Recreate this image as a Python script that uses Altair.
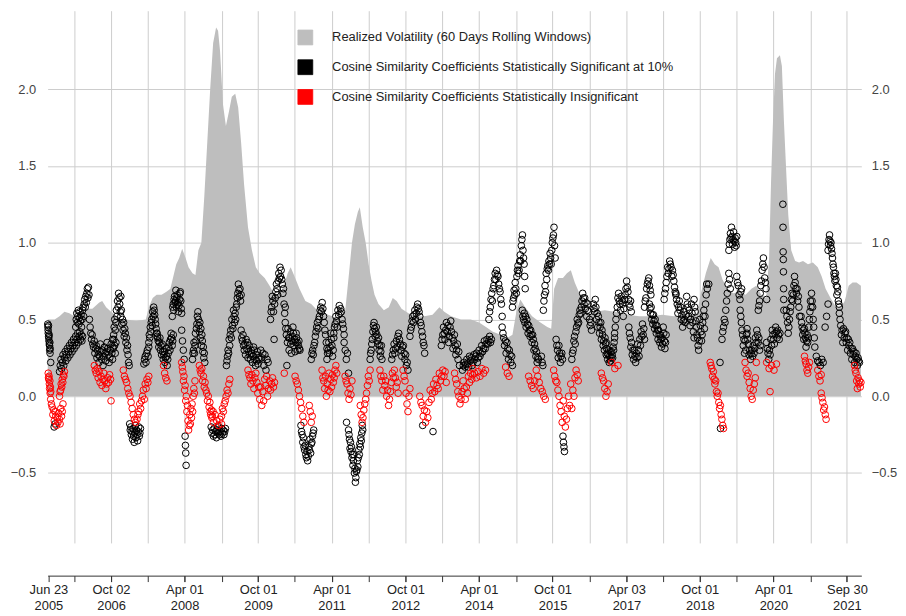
import altair as alt
import pandas as pd

LABEL_VOL = "Realized Volatility (60 Days Rolling Windows)"
LABEL_SIG = "Cosine Similarity Coefficients Statistically Significant at 10%"
LABEL_INS = "Cosine Similarity Coefficients Statistically Insignificant"

# realized volatility, decimal-year time and value
vol_t = [2005.46, 2005.60, 2005.70, 2005.80, 2005.90, 2006.00, 2006.10, 2006.24, 2006.37, 2006.51,
         2006.57, 2006.65, 2006.75, 2006.87, 2006.95, 2007.05, 2007.26, 2007.46, 2007.52, 2007.60,
         2007.68, 2007.78, 2007.88, 2007.96, 2008.02, 2008.08, 2008.14, 2008.20, 2008.27, 2008.33,
         2008.41, 2008.47, 2008.53, 2008.59, 2008.65, 2008.71, 2008.77, 2008.83, 2008.89, 2008.93,
         2008.97, 2009.03, 2009.09, 2009.15, 2009.21, 2009.28, 2009.34, 2009.40, 2009.46, 2009.54,
         2009.62, 2009.70, 2009.78, 2009.88, 2009.98, 2010.08, 2010.18, 2010.27, 2010.35, 2010.41,
         2010.49, 2010.59, 2010.71, 2010.83, 2010.95, 2011.09, 2011.26, 2011.40, 2011.52, 2011.60,
         2011.66, 2011.72, 2011.78, 2011.82, 2011.88, 2011.94, 2012.00, 2012.06, 2012.12, 2012.20,
         2012.31, 2012.41, 2012.49, 2012.57, 2012.67, 2012.81, 2012.97, 2013.13, 2013.30, 2013.44,
         2013.54, 2013.68, 2013.88, 2014.08, 2014.25, 2014.39, 2014.53, 2014.69, 2014.83, 2014.93,
         2015.01, 2015.09, 2015.19, 2015.33, 2015.50, 2015.64, 2015.72, 2015.78, 2015.86, 2015.96,
         2016.04, 2016.12, 2016.20, 2016.28, 2016.38, 2016.47, 2016.61, 2016.81, 2017.01, 2017.27,
         2017.51, 2017.76, 2017.98, 2018.22, 2018.46, 2018.69, 2018.77, 2018.87, 2018.97, 2019.05,
         2019.13, 2019.21, 2019.31, 2019.43, 2019.55, 2019.68, 2019.80, 2019.90, 2020.00, 2020.10,
         2020.16, 2020.20, 2020.24, 2020.28, 2020.32, 2020.38, 2020.42, 2020.46, 2020.51, 2020.55,
         2020.61, 2020.69, 2020.77, 2020.85, 2020.95, 2021.05, 2021.15, 2021.23, 2021.31, 2021.41,
         2021.52, 2021.62, 2021.70, 2021.78, 2021.86, 2021.94, 2022.03]
vol_v = [0.50, 0.50, 0.52, 0.55, 0.54, 0.52, 0.55, 0.57, 0.57, 0.61,
         0.62, 0.58, 0.55, 0.52, 0.50, 0.50, 0.49, 0.50, 0.58, 0.64,
         0.66, 0.66, 0.68, 0.70, 0.78, 0.86, 0.90, 0.96, 0.90, 0.84,
         0.80, 0.79, 0.95, 1.00, 1.30, 1.65, 2.00, 2.30, 2.40, 2.38,
         2.25, 1.90, 1.76, 1.85, 1.95, 1.97, 1.88, 1.65, 1.38, 1.10,
         0.95, 0.84, 0.80, 0.77, 0.72, 0.66, 0.66, 0.72, 0.80, 0.84,
         0.78, 0.70, 0.62, 0.60, 0.56, 0.54, 0.52, 0.50, 0.55, 0.80,
         1.00, 1.12, 1.20, 1.23, 1.10, 1.00, 0.86, 0.75, 0.66, 0.60,
         0.56, 0.58, 0.64, 0.62, 0.57, 0.54, 0.52, 0.52, 0.53, 0.58,
         0.55, 0.52, 0.50, 0.50, 0.48, 0.45, 0.42, 0.40, 0.38, 0.40,
         0.55, 0.63, 0.58, 0.52, 0.48, 0.45, 0.44, 0.70, 0.77, 0.77,
         0.80, 0.82, 0.74, 0.68, 0.60, 0.53, 0.55, 0.56, 0.55, 0.53,
         0.52, 0.52, 0.53, 0.52, 0.53, 0.54, 0.67, 0.80, 0.90, 0.86,
         0.84, 0.76, 0.70, 0.67, 0.68, 0.66, 0.70, 0.72, 0.66, 0.64,
         0.90, 1.40, 1.80, 2.10, 2.20, 2.22, 2.15, 1.80, 1.45, 1.18,
         0.95, 0.88, 0.87, 0.88, 0.86, 0.87, 0.84, 0.78, 0.70, 0.64,
         0.58, 0.58, 0.62, 0.72, 0.74, 0.74, 0.72]

# cosine similarity readings: (start, end, successive values) per visible cluster
sig_2005_2008 = [
    (2005.46, 2005.51, [0.47, 0.45, 0.43, 0.41, 0.46, 0.39, 0.38, 0.36, 0.40, 0.34, 0.33, 0.30, 0.35, 0.28, 0.31]),
    (2005.52, 2005.53, [0.22]),
    (2005.59, 2005.61, [-0.20, -0.18]),
    (2005.70, 2006.17, [0.16, 0.20, 0.24, 0.18, 0.22, 0.27, 0.20, 0.25, 0.29, 0.23, 0.27, 0.31, 0.25, 0.29, 0.33, 0.27, 0.31,
                        0.35, 0.29, 0.33, 0.37, 0.31, 0.35, 0.39, 0.33, 0.37, 0.41, 0.35, 0.39, 0.42, 0.37, 0.40, 0.36, 0.39]),
    (2006.03, 2006.30, [0.45, 0.50, 0.54, 0.48, 0.52, 0.56, 0.47, 0.51, 0.55, 0.49, 0.53, 0.45, 0.50, 0.56, 0.58, 0.52, 0.60,
                        0.63, 0.58, 0.65, 0.61, 0.67, 0.70, 0.64, 0.71, 0.66]),
    (2006.31, 2006.85, [0.50, 0.45, 0.41, 0.37, 0.40, 0.34, 0.32, 0.36, 0.28, 0.31, 0.33, 0.25, 0.30, 0.27, 0.22, 0.26, 0.34,
                        0.29, 0.24, 0.30, 0.20, 0.26, 0.32, 0.28, 0.23, 0.29, 0.35, 0.31, 0.27, 0.22, 0.25, 0.30, 0.34, 0.28,
                        0.24, 0.31, 0.37, 0.33, 0.28, 0.35]),
    (2006.78, 2006.95, [0.37, 0.32, 0.40, 0.45, 0.50, 0.43, 0.48, 0.56, 0.52, 0.62, 0.58, 0.67, 0.64, 0.60, 0.55, 0.65]),
    (2006.95, 2007.12, [0.52, 0.56, 0.47, 0.50, 0.43, 0.48, 0.39, 0.44, 0.41, 0.35, 0.38, 0.30, 0.33, 0.27, 0.22, 0.20]),
    (2007.13, 2007.35, [-0.18, -0.22, -0.20, -0.25, -0.23, -0.28, -0.21, -0.26, -0.30, -0.24, -0.19, -0.27, -0.22, -0.25,
                        -0.29, -0.23, -0.20, -0.26, -0.24, -0.21]),
    (2007.42, 2007.52, [0.21, 0.24, 0.26, 0.22, 0.28, 0.30, 0.26, 0.32]),
    (2007.52, 2007.69, [0.35, 0.40, 0.38, 0.45, 0.42, 0.48, 0.50, 0.46, 0.55, 0.52, 0.58, 0.56, 0.53, 0.50, 0.47, 0.44, 0.41, 0.39]),
    (2007.69, 2008.02, [0.41, 0.38, 0.36, 0.32, 0.35, 0.38, 0.30, 0.33, 0.27, 0.34, 0.29, 0.24, 0.27, 0.29, 0.22, 0.25, 0.31,
                        0.26, 0.20, 0.24, 0.28, 0.32, 0.35, 0.30, 0.37, 0.41, 0.38, 0.33, 0.36, 0.40]),
    (2008.00, 2008.19, [0.52, 0.58, 0.60, 0.56, 0.63, 0.65, 0.61, 0.62, 0.69, 0.58, 0.64, 0.66, 0.60, 0.61, 0.55, 0.59, 0.63,
                        0.67, 0.68, 0.62, 0.57, 0.54]),
    (2008.19, 2008.24, [0.43, 0.36, 0.30, 0.24]),
    (2008.26, 2008.28, [-0.26, -0.32, -0.37, -0.45]),
    (2008.41, 2008.66, [0.24, 0.28, 0.30, 0.35, 0.28, 0.33, 0.41, 0.36, 0.44, 0.47, 0.52, 0.55, 0.50, 0.46, 0.42, 0.48, 0.38,
                        0.44, 0.33, 0.40, 0.36, 0.29, 0.32, 0.25, 0.28, 0.22]),
    (2008.79, 2009.08, [-0.20, -0.24, -0.22, -0.26, -0.21, -0.25, -0.23, -0.27, -0.22, -0.24, -0.20, -0.25, -0.23, -0.26,
                        -0.21, -0.24, -0.22, -0.25, -0.23, -0.21]),
]
sig_2009_2013 = [
    (2009.10, 2009.40, [0.20, 0.23, 0.26, 0.30, 0.28, 0.37, 0.33, 0.40, 0.43, 0.38, 0.50, 0.46, 0.44, 0.56, 0.52, 0.48, 0.54,
                        0.50, 0.58, 0.60, 0.64, 0.67, 0.73, 0.69, 0.65, 0.70, 0.62, 0.66]),
    (2009.40, 2009.77, [0.43, 0.38, 0.36, 0.40, 0.33, 0.30, 0.34, 0.27, 0.37, 0.31, 0.35, 0.25, 0.29, 0.33, 0.27, 0.24, 0.30,
                        0.28, 0.22, 0.26, 0.32, 0.30, 0.24, 0.20, 0.27, 0.23, 0.29, 0.21, 0.25, 0.24]),
    (2009.80, 2009.95, [0.30, 0.25, 0.28, 0.20, 0.27, 0.17, 0.24, 0.22]),
    (2010.00, 2010.30, [0.50, 0.55, 0.58, 0.65, 0.62, 0.55, 0.37, 0.60, 0.64, 0.68, 0.73, 0.70, 0.66, 0.75, 0.80, 0.77, 0.84,
                        0.78, 0.82, 0.76, 0.73, 0.67, 0.70, 0.60, 0.54, 0.58]),
    (2010.30, 2010.60, [0.48, 0.44, 0.40, 0.20, 0.35, 0.44, 0.38, 0.30, 0.38, 0.42, 0.34, 0.28, 0.36, 0.39, 0.45, 0.41, 0.33,
                        0.37, 0.29, 0.35, 0.41, 0.38, 0.35, 0.30, 0.33, 0.36, 0.31, 0.30]),
    (2010.62, 2010.88, [-0.19, -0.23, -0.25, -0.30, -0.27, -0.33, -0.35, -0.32, -0.38, -0.40, -0.36, -0.42, -0.39, -0.33,
                        -0.35, -0.28, -0.37, -0.31, -0.30, -0.26, -0.24, -0.22]),
    (2010.83, 2011.15, [0.24, 0.28, 0.30, 0.27, 0.33, 0.35, 0.39, 0.42, 0.45, 0.48, 0.44, 0.50, 0.52, 0.56, 0.58, 0.55, 0.61,
                        0.57, 0.52, 0.48, 0.43, 0.40, 0.35, 0.31]),
    (2011.15, 2011.29, [0.24, 0.28, 0.30, 0.35, 0.28, 0.32, 0.41, 0.37, 0.33, 0.26, 0.30, 0.38]),
    (2011.29, 2011.50, [0.41, 0.45, 0.47, 0.52, 0.49, 0.45, 0.56, 0.53, 0.59, 0.54, 0.57, 0.55, 0.50, 0.47, 0.44, 0.40]),
    (2011.50, 2011.59, [0.35, 0.30, 0.24, 0.28, 0.15]),
    (2011.55, 2011.56, [-0.17]),
    (2011.59, 2011.88, [-0.22, -0.25, -0.28, -0.34, -0.30, -0.36, -0.33, -0.40, -0.38, -0.45, -0.42, -0.38, -0.50, -0.47,
                        -0.56, -0.53, -0.49, -0.48, -0.42, -0.46, -0.40, -0.35, -0.38, -0.31, -0.33, -0.27, -0.29, -0.24,
                        -0.19, -0.22]),
    (2012.03, 2012.27, [0.24, 0.28, 0.30, 0.34, 0.37, 0.42, 0.46, 0.48, 0.44, 0.39, 0.42, 0.45, 0.40, 0.36, 0.34, 0.38, 0.30,
                        0.33, 0.26, 0.29, 0.33, 0.24]),
    (2012.47, 2012.80, [0.24, 0.27, 0.30, 0.34, 0.28, 0.31, 0.36, 0.32, 0.39, 0.41, 0.37, 0.34, 0.30, 0.26, 0.32, 0.33, 0.28,
                        0.24, 0.27, 0.20, 0.22, 0.17]),
    (2012.84, 2013.14, [0.39, 0.43, 0.45, 0.49, 0.52, 0.48, 0.53, 0.56, 0.50, 0.54, 0.58, 0.60, 0.57, 0.55, 0.52, 0.48, 0.46,
                        0.42, 0.39, 0.35, 0.33, 0.28]),
    (2013.10, 2013.11, [-0.19]),
    (2013.31, 2013.32, [-0.23]),
    (2013.48, 2013.85, [0.33, 0.37, 0.40, 0.45, 0.41, 0.37, 0.43, 0.48, 0.42, 0.46, 0.35, 0.39, 0.45, 0.49, 0.42, 0.38, 0.31,
                        0.36, 0.40, 0.33, 0.27, 0.30, 0.34, 0.24, 0.29, 0.20]),
    (2013.91, 2014.50, [0.17, 0.20, 0.22, 0.19, 0.21, 0.24, 0.21, 0.19, 0.26, 0.23, 0.25, 0.20, 0.22, 0.27, 0.24, 0.26, 0.28,
                        0.22, 0.25, 0.30, 0.26, 0.28, 0.33, 0.29, 0.31, 0.36, 0.31, 0.34, 0.37, 0.34, 0.36, 0.39, 0.35, 0.37]),
]
sig_2014_2017 = [
    (2014.45, 2014.72, [0.50, 0.55, 0.58, 0.63, 0.67, 0.62, 0.70, 0.72, 0.76, 0.80, 0.76, 0.82, 0.79, 0.78, 0.73, 0.70, 0.68,
                        0.63, 0.60, 0.52]),
    (2014.72, 2014.93, [0.45, 0.41, 0.38, 0.33, 0.36, 0.28, 0.35, 0.31, 0.24, 0.30, 0.27, 0.22, 0.26, 0.20]),
    (2014.93, 2015.19, [0.58, 0.62, 0.64, 0.69, 0.66, 0.74, 0.70, 0.67, 0.78, 0.82, 0.85, 0.80, 0.82, 0.88, 0.92, 0.88, 0.98,
                        1.02, 1.05, 0.95, 0.90, 0.86, 0.78, 0.70]),
    (2015.13, 2015.46, [0.56, 0.52, 0.50, 0.54, 0.48, 0.52, 0.45, 0.50, 0.47, 0.41, 0.46, 0.43, 0.39, 0.43, 0.40, 0.35, 0.40,
                        0.37, 0.30, 0.34, 0.31, 0.26, 0.29, 0.22, 0.25, 0.24]),
    (2015.52, 2015.55, [0.26, 0.22, 0.20]),
    (2015.56, 2015.80, [0.56, 0.62, 0.66, 0.72, 0.68, 0.80, 0.76, 0.83, 0.85, 0.82, 0.88, 0.86, 0.93, 0.90, 0.86, 0.95, 1.00,
                        1.03, 1.05, 1.10, 0.98, 0.90]),
    (2015.82, 2015.95, [0.37, 0.33, 0.30, 0.25, 0.33, 0.28, 0.22, 0.26, 0.28, 0.24]),
    (2015.96, 2015.99, [-0.26, -0.30, -0.33, -0.36]),
    (2016.14, 2016.54, [0.24, 0.28, 0.30, 0.36, 0.39, 0.34, 0.42, 0.45, 0.50, 0.47, 0.48, 0.53, 0.56, 0.54, 0.58, 0.62, 0.67,
                        0.64, 0.60, 0.64, 0.57, 0.61, 0.52, 0.56, 0.60, 0.55, 0.50, 0.46, 0.48, 0.43]),
    (2016.58, 2016.84, [0.60, 0.57, 0.55, 0.63, 0.58, 0.50, 0.54, 0.45, 0.52, 0.48, 0.41, 0.45, 0.48, 0.37, 0.43, 0.40, 0.33,
                        0.36, 0.30, 0.38, 0.34, 0.27]),
    (2016.84, 2017.01, [0.35, 0.31, 0.28, 0.24, 0.27, 0.30, 0.22, 0.26, 0.29, 0.23, 0.25, 0.29, 0.27, 0.25, 0.32, 0.30, 0.35, 0.38]),
    (2017.01, 2017.35, [0.41, 0.45, 0.50, 0.54, 0.58, 0.64, 0.67, 0.62, 0.60, 0.56, 0.65, 0.62, 0.60, 0.52, 0.57, 0.63, 0.66,
                        0.70, 0.75, 0.71, 0.68, 0.63, 0.60, 0.58, 0.62, 0.55]),
    (2017.30, 2017.62, [0.45, 0.41, 0.38, 0.32, 0.35, 0.27, 0.30, 0.24, 0.30, 0.26, 0.22, 0.28, 0.25, 0.34, 0.30, 0.26, 0.37,
                        0.33, 0.42, 0.39, 0.47, 0.40, 0.44, 0.37]),
    (2017.62, 2017.75, [0.58, 0.62, 0.64, 0.70, 0.73, 0.75, 0.77, 0.72, 0.69, 0.66]),
    (2017.72, 2018.06, [0.60, 0.57, 0.54, 0.58, 0.50, 0.53, 0.47, 0.53, 0.49, 0.44, 0.50, 0.46, 0.41, 0.46, 0.43, 0.37, 0.43,
                        0.40, 0.35, 0.40, 0.37, 0.32, 0.38, 0.34, 0.45, 0.41, 0.36, 0.31, 0.35, 0.40]),
]
sig_2018_2021 = [
    (2018.02, 2018.26, [0.63, 0.67, 0.70, 0.74, 0.78, 0.84, 0.80, 0.83, 0.88, 0.86, 0.84, 0.78, 0.82, 0.79, 0.75, 0.71, 0.68, 0.66]),
    (2018.26, 2018.63, [0.67, 0.63, 0.60, 0.54, 0.58, 0.62, 0.56, 0.58, 0.50, 0.53, 0.45, 0.49, 0.55, 0.50, 0.48, 0.53, 0.65,
                        0.60, 0.58, 0.52, 0.56, 0.46, 0.50, 0.60, 0.54, 0.48, 0.42, 0.38]),
    (2018.63, 2018.90, [0.63, 0.58, 0.55, 0.49, 0.45, 0.40, 0.38, 0.33, 0.30, 0.36, 0.50, 0.46, 0.42, 0.36, 0.40, 0.48, 0.52,
                        0.56, 0.44, 0.52, 0.60, 0.66, 0.73, 0.70]),
    (2018.93, 2018.94, [0.73]),
    (2019.16, 2019.17, [0.22]),
    (2019.17, 2019.18, [-0.21]),
    (2019.20, 2019.37, [0.37, 0.42, 0.45, 0.50, 0.48, 0.56, 0.62, 0.67, 0.73, 0.80, 0.76, 0.70]),
    (2019.34, 2019.50, [0.95, 0.99, 1.02, 1.06, 1.03, 1.10, 1.04, 0.99, 1.02, 1.07, 1.01, 0.97, 1.03, 1.00, 0.98, 1.04]),
    (2019.50, 2019.60, [0.78, 0.74, 0.72, 0.66, 0.63, 0.68, 0.70]),
    (2019.57, 2019.71, [0.56, 0.52, 0.48, 0.43, 0.40, 0.33, 0.37, 0.28, 0.36, 0.30, 0.40, 0.44]),
    (2019.71, 2019.98, [0.41, 0.37, 0.34, 0.27, 0.30, 0.24, 0.28, 0.30, 0.26, 0.33, 0.28, 0.31, 0.38, 0.35, 0.43, 0.40, 0.35,
                        0.38, 0.30, 0.33]),
    (2019.94, 2020.11, [0.56, 0.59, 0.62, 0.67, 0.72, 0.75, 0.82, 0.86, 0.90, 0.84, 0.77, 0.74, 0.70, 0.63]),
    (2020.11, 2020.38, [0.35, 0.31, 0.28, 0.24, 0.30, 0.27, 0.37, 0.33, 0.43, 0.40, 0.37, 0.34, 0.41, 0.45, 0.42, 0.38, 0.43,
                        0.40, 0.37, 0.41]),
    (2020.44, 2020.46, [1.25, 1.10, 0.94, 0.89, 0.81, 0.70, 0.63, 0.56]),
    (2020.51, 2020.78, [0.56, 0.52, 0.48, 0.41, 0.45, 0.50, 0.55, 0.58, 0.63, 0.67, 0.62, 0.66, 0.72, 0.78, 0.74, 0.70, 0.67,
                        0.70, 0.62, 0.65, 0.58, 0.52]),
    (2020.81, 2021.09, [0.52, 0.48, 0.45, 0.40, 0.43, 0.37, 0.44, 0.41, 0.38, 0.32, 0.36, 0.40, 0.35, 0.38, 0.45, 0.50, 0.55,
                        0.62, 0.58, 0.67, 0.62, 0.58, 0.50, 0.45, 0.38, 0.32]),
    (2021.12, 2021.26, [0.26, 0.23, 0.22, 0.20, 0.24, 0.22]),
    (2021.30, 2021.36, [0.45, 0.52, 0.60]),
    (2021.36, 2021.59, [0.95, 0.99, 1.02, 1.05, 1.01, 0.98, 1.00, 0.96, 0.93, 0.90, 0.86, 0.84, 0.80, 0.78, 0.75, 0.80, 0.76,
                        0.72, 0.66, 0.71, 0.68, 0.62, 0.60, 0.58]),
    (2021.59, 2022.00, [0.54, 0.50, 0.46, 0.40, 0.43, 0.35, 0.44, 0.38, 0.41, 0.42, 0.35, 0.38, 0.30, 0.37, 0.33, 0.35, 0.28,
                        0.31, 0.24, 0.31, 0.27, 0.29, 0.22, 0.26, 0.28, 0.24, 0.20, 0.25, 0.23, 0.22]),
]

ins_2005_2011 = [
    (2005.47, 2005.52, [0.15, 0.12, 0.11, 0.13, 0.08, 0.05, 0.10, 0.02, 0.06, 0.03]),
    (2005.52, 2005.77, [-0.02, -0.05, -0.07, -0.12, -0.09, -0.16, -0.10, -0.13, -0.19, -0.14, -0.17, -0.11, -0.15, -0.18,
                        -0.08, -0.13, -0.10, -0.05]),
    (2005.70, 2005.80, [0.00, 0.03, 0.04, 0.08, 0.06, 0.11, 0.09, 0.14, 0.13, 0.16]),
    (2006.41, 2006.74, [0.20, 0.17, 0.15, 0.18, 0.12, 0.16, 0.09, 0.13, 0.07, 0.11, 0.15, 0.10, 0.05, 0.08, 0.12, 0.09, 0.14, 0.11]),
    (2006.75, 2006.76, [-0.03]),
    (2007.00, 2007.25, [0.17, 0.13, 0.11, 0.09, 0.05, 0.02, 0.00, -0.04, -0.08, -0.12, -0.15, -0.17]),
    (2007.28, 2007.52, [-0.15, -0.12, -0.10, -0.05, -0.08, -0.03, 0.00, 0.04, -0.02, 0.08, 0.05, 0.11, 0.09, 0.13]),
    (2007.82, 2007.89, [0.20, 0.15, 0.12, 0.10]),
    (2008.19, 2008.46, [0.22, 0.19, 0.16, 0.10, 0.13, 0.04, 0.07, -0.03, 0.00, -0.10, -0.06, -0.16, -0.22, -0.19, -0.12,
                        -0.18, -0.08, -0.14, -0.05, -0.10, 0.00, 0.05, 0.02, 0.10]),
    (2008.55, 2008.83, [0.20, 0.17, 0.15, 0.18, 0.10, 0.13, 0.06, 0.09, 0.04, 0.02, -0.03, 0.00, -0.07, -0.04, -0.12, -0.09,
                        -0.13, -0.10]),
    (2008.77, 2009.00, [-0.10, -0.14, -0.17, -0.12, -0.16, -0.19, -0.15, -0.18]),
    (2009.00, 2009.17, [-0.13, -0.08, -0.10, -0.05, -0.03, 0.00, 0.04, 0.02, 0.08, 0.11]),
    (2009.54, 2010.08, [0.17, 0.14, 0.12, 0.08, 0.14, 0.10, 0.05, 0.12, 0.15, 0.09, 0.02, 0.06, -0.02, 0.06, -0.06, 0.03,
                        -0.03, 0.11, 0.07, 0.13, 0.00, 0.05, 0.10, 0.04, 0.08, 0.12, 0.06, 0.09]),
    (2010.28, 2010.29, [0.15]),
    (2010.50, 2010.68, [0.13, 0.10, 0.08, 0.04, 0.00, -0.04, -0.08, -0.13, -0.17]),
    (2010.79, 2010.85, [-0.06, -0.10, -0.17, -0.13]),
    (2011.05, 2011.35, [0.17, 0.12, 0.10, 0.05, 0.13, 0.00, 0.08, 0.04, 0.15, 0.03, 0.11, 0.06, 0.14, 0.09, 0.12, 0.17, 0.20, 0.15]),
]
ins_2011_2016 = [
    (2011.52, 2011.66, [0.13, 0.10, 0.08, 0.02, -0.02, 0.05, 0.01, 0.10]),
    (2011.83, 2012.03, [-0.06, -0.12, -0.17, -0.14, -0.09, -0.05, -0.02, 0.02, 0.07, 0.13, 0.10, 0.17]),
    (2012.23, 2012.60, [0.17, 0.13, 0.10, 0.04, 0.13, 0.07, 0.10, 0.00, 0.04, -0.06, -0.02, 0.03, 0.09, 0.15, 0.12, 0.17,
                        0.12, 0.06, 0.09, 0.02]),
    (2012.70, 2012.84, [0.17, 0.13, 0.10, 0.02, -0.05, -0.10, 0.00, 0.05]),
    (2013.04, 2013.58, [0.00, -0.04, -0.06, -0.13, -0.09, -0.17, -0.10, -0.14, -0.04, 0.04, -0.02, 0.02, 0.08, 0.03, 0.11,
                        0.07, 0.05, 0.15, 0.10, 0.13, 0.17, 0.13, 0.16, 0.09]),
    (2013.75, 2014.12, [0.15, 0.11, 0.08, 0.03, 0.00, -0.05, -0.02, 0.03, 0.10, 0.05, -0.02, 0.06, 0.02, 0.13, 0.09, 0.15,
                        0.11, 0.14]),
    (2014.12, 2014.38, [0.18, 0.15, 0.12, 0.16, 0.13, 0.18, 0.15, 0.17]),
    (2014.79, 2014.86, [0.19, 0.15, 0.13]),
    (2015.26, 2015.60, [0.13, 0.10, 0.07, 0.05, 0.10, 0.17, 0.13, 0.09, 0.05, 0.03, 0.00, -0.02]),
    (2015.77, 2016.27, [0.17, 0.13, 0.10, 0.09, 0.04, 0.00, -0.06, -0.10, -0.17, -0.03, -0.13, -0.20, -0.15, -0.08, 0.00,
                        -0.06, 0.08, -0.08, 0.04, 0.00, 0.12, 0.17, 0.14, 0.10]),
    (2016.74, 2016.88, [0.15, 0.12, 0.10, 0.05, 0.00, 0.03, 0.08]),
    (2016.95, 2017.08, [0.22, 0.18, 0.20]),
]
ins_2018_2021 = [
    (2018.96, 2019.23, [0.22, 0.20, 0.18, 0.13, 0.16, 0.11, 0.08, 0.10, 0.03, 0.00, 0.02, -0.04, -0.08, -0.06, -0.12, -0.15,
                        -0.19, -0.21]),
    (2019.67, 2019.90, [0.22, 0.17, 0.13, 0.15, 0.09, 0.05, 0.00, -0.02, 0.04, 0.08, 0.12, 0.22]),
    (2020.11, 2020.31, [0.22, 0.18, 0.20, 0.17, 0.21]),
    (2020.18, 2020.19, [0.03]),
    (2020.88, 2020.98, [0.26, 0.23, 0.21, 0.17, 0.15, 0.19, 0.22]),
    (2021.15, 2021.22, [0.17, 0.13, 0.10, 0.14]),
    (2021.22, 2021.32, [0.02, -0.01, -0.04, -0.09, -0.07, -0.12, -0.15]),
    (2021.90, 2022.03, [0.20, 0.17, 0.15, 0.10, 0.05, 0.12, 0.08, 0.10, 0.06, 0.09]),
]

# x-axis ticks: labelled dates and the unlabelled ticks between them
labelled_ticks = [(2005, 6, 23), (2006, 10, 2), (2008, 4, 1), (2009, 10, 1), (2011, 4, 1), (2012, 10, 1),
                  (2014, 4, 1), (2015, 10, 1), (2017, 4, 3), (2018, 10, 1), (2020, 4, 1), (2021, 9, 30)]
minor_ticks = [(2006, 1, 2), (2007, 7, 2), (2009, 1, 2), (2010, 7, 1), (2012, 1, 3), (2013, 7, 1),
               (2015, 1, 2), (2016, 7, 1), (2018, 1, 2), (2019, 7, 1), (2021, 1, 4)]
y_ticks = [-0.5, 0.0, 0.5, 1.0, 1.5, 2.0]
x_start = (2005, 6, 17)
x_end = (2022, 1, 15)
y_domain = [-0.955, 2.51]


def to_iso(t):
    yr = int(t)
    a = pd.Timestamp(year=yr, month=1, day=1)
    b = pd.Timestamp(year=yr + 1, month=1, day=1)
    return (a + (b - a) * (t - yr)).strftime("%Y-%m-%dT%H:%M:%S")


def expand(segments, label):
    rows = []
    for t0, t1, vals in segments:
        n = len(vals)
        for k, v in enumerate(vals):
            t = t0 if n == 1 else t0 + (t1 - t0) * k / (n - 1)
            rows.append({"date": to_iso(t), "coef": v, "series": label})
    return rows


def dt(d):
    return alt.DateTime(year=d[0], month=d[1], date=d[2])


vol_df = pd.DataFrame({"date": [to_iso(t) for t in vol_t], "vol": vol_v, "series": LABEL_VOL})
sig_df = pd.DataFrame(expand(sig_2005_2008 + sig_2009_2013 + sig_2014_2017 + sig_2018_2021, LABEL_SIG))
ins_df = pd.DataFrame(expand(ins_2005_2011 + ins_2011_2016 + ins_2018_2021, LABEL_INS))

FONT = "Liberation Sans"
FS = 13
GRID = "#cccccc"

x_scale = alt.Scale(domain=[dt(x_start), dt(x_end)], nice=False)
y_scale = alt.Scale(domain=y_domain, nice=False, zero=False)
color_scale = alt.Scale(domain=[LABEL_VOL, LABEL_SIG, LABEL_INS], range=["#bebebe", "#000000", "#ff0000"])

# first label line (month day), ticks and axis line on labelled ticks
axis_md = alt.Axis(values=[dt(d) for d in labelled_ticks], format="%b %d", orient="bottom",
                   offset=33, tickSize=6, tickColor="#333333", domainColor="#333333",
                   grid=False, labelFont=FONT, labelFontSize=FS, labelColor="#222222",
                   labelPadding=2, labelFlush=False, labelOverlap=False, title=None)
# second label line (year)
axis_yr = alt.Axis(values=[dt(d) for d in labelled_ticks], format="%Y", orient="bottom",
                   offset=33, tickSize=6, tickOpacity=0, domain=False, grid=False,
                   labelFont=FONT, labelFontSize=FS, labelColor="#222222",
                   labelPadding=18, labelFlush=False, labelOverlap=False, title=None)
# unlabelled ticks, and vertical grid lines on every tick after the first
axis_minor = alt.Axis(values=[dt(d) for d in minor_ticks + labelled_ticks[1:]], orient="bottom",
                      offset=33, tickSize=6, tickColor="#333333", domain=False, labels=False,
                      grid=True, gridColor=GRID, title=None)

area = alt.Chart(vol_df).mark_area(interpolate="linear", opacity=1).encode(
    x=alt.X("date:T", scale=x_scale, axis=axis_md),
    y=alt.Y("vol:Q", scale=y_scale, axis=alt.Axis(
        values=y_ticks, format=".1f", orient="left", grid=True, gridColor=GRID,
        domain=False, ticks=False, labelPadding=12, labelFont=FONT, labelFontSize=FS,
        labelColor="#444444", title=None)),
    color=alt.Color("series:N", scale=color_scale, legend=alt.Legend(
        orient="none", legendX=252, legendY=19, title=None, direction="vertical",
        symbolType="square", symbolSize=225, symbolStrokeColor="#000000", symbolStrokeWidth=0.8,
        labelFont=FONT, labelFontSize=FS, labelColor="#222222",
        labelOffset=19, rowPadding=10, labelLimit=600)),
)

sig_pts = alt.Chart(sig_df).mark_point(shape="circle", filled=False, size=45, strokeWidth=1, opacity=1).encode(
    x=alt.X("date:T", scale=x_scale, axis=axis_yr),
    y=alt.Y("coef:Q", scale=y_scale, axis=None),
    color=alt.Color("series:N", scale=color_scale, legend=None),
)

ins_pts = alt.Chart(ins_df).mark_point(shape="circle", filled=False, size=45, strokeWidth=1, opacity=1).encode(
    x=alt.X("date:T", scale=x_scale, axis=axis_minor),
    y=alt.Y("coef:Q", scale=y_scale, axis=alt.Axis(
        values=y_ticks, format=".1f", orient="right", grid=False, domain=False, ticks=False,
        labelPadding=10, labelFont=FONT, labelFontSize=FS, labelColor="#444444", title=None)),
    color=alt.Color("series:N", scale=color_scale, legend=None),
)

chart = alt.layer(area, sig_pts, ins_pts).resolve_scale(y="independent").resolve_axis(x="independent").properties(
    width=821, height=537,
    autosize=alt.AutoSizeParams(type="none"),
    padding={"left": 40, "top": 0, "right": 37, "bottom": 71},
).configure_view(strokeWidth=0)

chart.save("out.html", embed_options={"renderer": "svg", "actions": False})
